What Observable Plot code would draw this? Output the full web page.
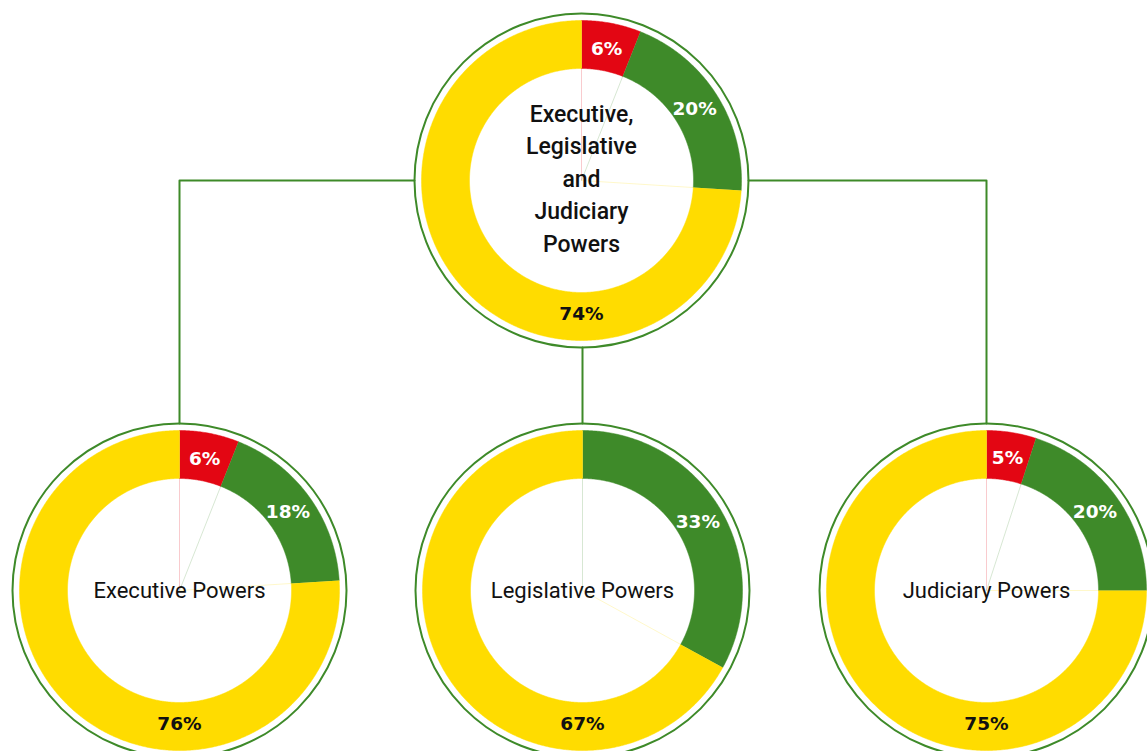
<!DOCTYPE html>
<html><head><meta charset="utf-8">
<script src="https://cdn.jsdelivr.net/npm/d3@7"></script>
<script src="https://cdn.jsdelivr.net/npm/@observablehq/plot@0.6"></script>
<style>
html,body{margin:0;padding:0;background:#fff;overflow:hidden}
#chart svg{display:block}
</style>
</head><body><div id="chart"></div>
<script>
// ---- data ----
const charts = ["Executive, Legislative and Judiciary Powers", "Executive Powers", "Legislative Powers", "Judiciary Powers"];
const titles = ["Executive,\nLegislative\nand\nJudiciary\nPowers", "Executive Powers", "Legislative Powers", "Judiciary Powers"];
const categories = ["low", "medium", "high"];
const lowValues = [6, 6, 0, 5];
const mediumValues = [20, 18, 33, 20];
const highValues = [74, 76, 67, 75];
const parentOf = [null, 0, 0, 0];

// ---- styling / layout ----
const W = 1147, H = 751;
const colors = ["#e30613", "#3e8a29", "#ffdc00"];
const labelColors = ["#ffffff", "#ffffff", "#111111"];
const ringColor = "#3e8a29";
const centers = [{cx: 581, cy: 180}, {cx: 179, cy: 590}, {cx: 582, cy: 590}, {cx: 986, cy: 590}];
const R_OUT = 160, R_IN = 112, R_RING = 167, R_LABEL = 134;

const pt = (c, r, a) => ({x: c.cx + r * Math.sin(a), y: c.cy - r * Math.cos(a)});

const polys = [], labels = [], seams = [];
charts.forEach((name, i) => {
  const vals = [lowValues[i], mediumValues[i], highValues[i]];
  const total = d3.sum(vals);
  const c = centers[i];
  const arcs = d3.pie().sort(null).value(d => d)(vals);
  arcs.forEach((a, k) => {
    if (a.value <= 0) return;
    const id = `${i}-${k}`;
    const n = Math.max(2, Math.ceil((a.endAngle - a.startAngle) / (Math.PI / 360)));
    for (let j = 0; j <= n; j++) {
      const t = a.startAngle + (a.endAngle - a.startAngle) * j / n;
      polys.push({id, cat: categories[k], ...pt(c, R_OUT, t)});
    }
    for (let j = n; j >= 0; j--) {
      const t = a.startAngle + (a.endAngle - a.startAngle) * j / n;
      polys.push({id, cat: categories[k], ...pt(c, R_IN, t)});
    }
    // label angle: slice midpoint, or bottom if the slice covers the bottom
    let la = (a.startAngle + a.endAngle) / 2;
    if (a.startAngle < Math.PI && a.endAngle > Math.PI) la = Math.PI;
    const p = pt(c, R_LABEL, la);
    labels.push({x: p.x, y: p.y, text: `${Math.round(a.value / total * 100)}%`, color: labelColors[k]});
    const e = pt(c, R_IN, a.startAngle);
    seams.push({x1: c.cx, y1: c.cy, x2: e.x, y2: e.y, color: colors[k]});
  });
});

const connectors = [];
charts.forEach((name, i) => {
  const p = parentOf[i];
  if (p === null) return;
  const a = centers[p], b = centers[i];
  if (Math.abs(a.cx - b.cx) < 2) {
    connectors.push({id: i, x: b.cx, y: a.cy + R_RING});
    connectors.push({id: i, x: b.cx, y: b.cy - R_RING});
  } else {
    const sx = a.cx + Math.sign(b.cx - a.cx) * R_RING;
    connectors.push({id: i, x: sx, y: a.cy});
    connectors.push({id: i, x: b.cx, y: a.cy});
    connectors.push({id: i, x: b.cx, y: b.cy - R_RING});
  }
});

const titleData = titles.map((t, i) => ({text: t, x: centers[i].cx, y: centers[i].cy}));

const chart = Plot.plot({
  width: W, height: H,
  margin: 0,
  x: {domain: [0, W], range: [0, W], axis: null},
  y: {domain: [0, H], range: [0, H], axis: null},
  color: {type: "ordinal", domain: categories, range: colors},
  style: {background: "#fff"},
  marks: [
    Plot.line(connectors, {x: "x", y: "y", z: "id", stroke: ringColor, strokeWidth: 2}),
    Plot.dot(centers, {x: "cx", y: "cy", r: R_RING, stroke: ringColor, strokeWidth: 2, fill: "none"}),
    Plot.line(polys, {x: "x", y: "y", z: "id", fill: "cat", stroke: "cat", strokeWidth: 0.5, curve: "linear"}),
    Plot.link(seams, {x1: "x1", y1: "y1", x2: "x2", y2: "y2", stroke: "color", strokeOpacity: 0.3, strokeWidth: 0.7}),
    Plot.text(labels, {x: "x", y: "y", text: "text", fill: "color", fontSize: 18.5, fontWeight: "bold", fontFamily: "DejaVu Sans"}),
    Plot.text(titleData.filter((d, i) => i === 0), {x: "x", y: "y", dy: -4, text: "text", fontSize: 23, fontWeight: 500, lineHeight: 1.41, fill: "#111", fontFamily: "Roboto"}),
    Plot.text(titleData.filter((d, i) => i > 0), {x: "x", y: "y", text: "text", fontSize: 22, fill: "#111", fontFamily: "Roboto"})
  ]
});
document.getElementById("chart").appendChild(chart);
</script>
</body></html>
